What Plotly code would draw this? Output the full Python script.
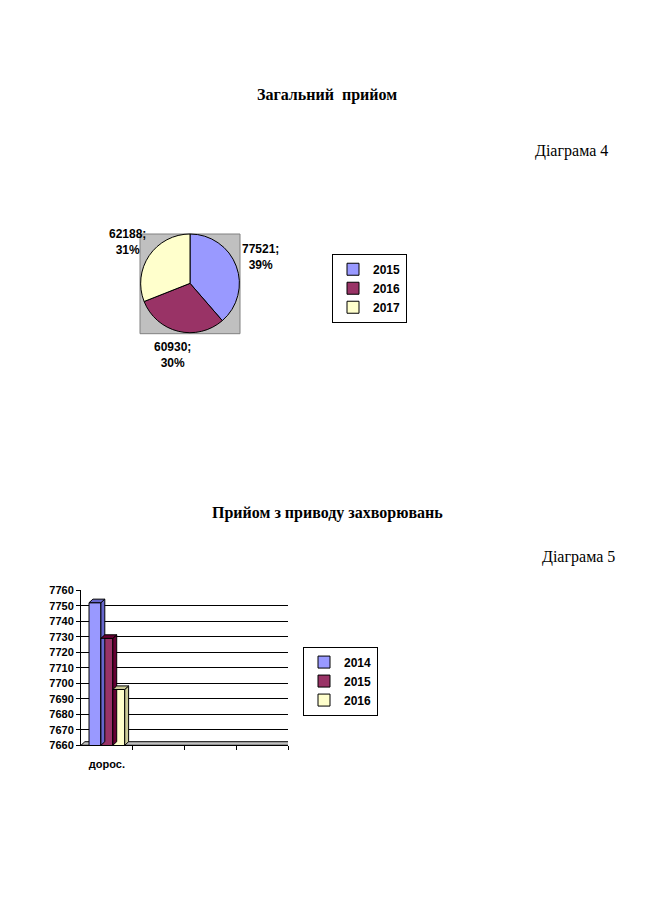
import math
import plotly.graph_objects as go

W, H = 654, 924

# ---- data ----
pie_years = ["2015", "2016", "2017"]
pie_values = [77521, 60930, 62188]
pie_colors = ["#9999FF", "#993366", "#FFFFCC"]

bar_category = ["дорос."]
bar_years = ["2014", "2015", "2016"]
bar_values = [7752, 7729, 7696]
bar_colors = ["#9999FF", "#993366", "#FFFFCC"]
bar_side_colors = ["#6666CC", "#660033", "#CCCC99"]
y_ticks = [7660, 7670, 7680, 7690, 7700, 7710, 7720, 7730, 7740, 7750, 7760]

SANS = "Liberation Sans"
SERIF = "Liberation Serif"


def px_x(x):
    return x / W


def px_y(y):
    return 1 - y / H


fig = go.Figure()

# ---- pie chart ----
pie_x = [140, 240]
pie_y = [231, 331]
fig.add_trace(go.Pie(
    labels=pie_years, values=pie_values, sort=False, direction="clockwise",
    rotation=0,
    marker=dict(colors=pie_colors, line=dict(color="black", width=1)),
    textinfo="none",
    domain=dict(x=[px_x(pie_x[0]), px_x(pie_x[1])], y=[px_y(pie_y[1]), px_y(pie_y[0])]),
    legend="legend", showlegend=True, hoverinfo="skip",
))

annotations = []
# data labels placed outside each slice at its mid angle
total = sum(pie_values)
cx = (pie_x[0] + pie_x[1]) / 2
cy = (pie_y[0] + pie_y[1]) / 2
r_lab = 75
cum = 0
for v in pie_values:
    mid = (cum + v / 2) / total * 2 * math.pi
    cum += v
    lx = cx + r_lab * math.sin(mid)
    ly = cy - r_lab * math.cos(mid)
    annotations.append(dict(
        text=f"{v};<br>{round(100 * v / total)}%", x=px_x(lx), y=px_y(ly),
        xref="paper", yref="paper", xanchor="center", yanchor="middle",
        showarrow=False, align="center",
        font=dict(family=SANS, size=12, color="black", weight="bold"),
    ))

# ---- bar chart ----
n = len(bar_years)
group_w = 0.69
bw = group_w / n
for i, (yr, v, c) in enumerate(zip(bar_years, bar_values, bar_colors)):
    fig.add_trace(go.Bar(
        x=[0], y=[v], name=yr, width=bw, offset=-group_w / 2 + i * bw,
        marker=dict(color=c, line=dict(color="black", width=1)),
        legend="legend2", xaxis="x", yaxis="y", hoverinfo="skip",
    ))

# 3D depth faces derived from the data
dx = 0.075
dy = 2.3
shapes = []
y0 = y_ticks[0]
# gray background square behind the pie
shapes.append(dict(
    type="rect", xref="paper", yref="paper",
    x0=px_x(pie_x[0]), x1=px_x(pie_x[1]), y0=px_y(pie_y[1] + 1), y1=px_y(pie_y[0]),
    fillcolor="#C0C0C0", line=dict(color="#808080", width=1), layer="below",
))
# floor
shapes.append(dict(
    type="path", xref="x", yref="y",
    path=f"M -0.5 {y0} L {-0.5+dx} {y0+dy} L {3.5+dx} {y0+dy} L 3.5 {y0} Z",
    fillcolor="#C0C0C0", line=dict(color="black", width=1), layer="below",
))
for i, (v, sc) in enumerate(zip(bar_values, bar_side_colors)):
    left = -group_w / 2 + i * bw
    right = left + bw
    shapes.append(dict(
        type="path", xref="x", yref="y",
        path=f"M {right} {y0} L {right+dx} {y0+dy} L {right+dx} {v+dy} L {right} {v} Z",
        fillcolor=sc, line=dict(color="black", width=1),
    ))
    shapes.append(dict(
        type="path", xref="x", yref="y",
        path=f"M {left} {v} L {left+dx} {v+dy} L {right+dx} {v+dy} L {right} {v} Z",
        fillcolor=sc, line=dict(color="black", width=1),
    ))

annotations += [
    dict(text="<b>Загальний  прийом</b>", x=px_x(327), y=px_y(90), xref="paper", yref="paper",
         yanchor="middle", showarrow=False, font=dict(family=SERIF, size=16, color="black")),
    dict(text="Діаграма 4", x=px_x(610), y=px_y(147), xref="paper", yref="paper",
         xanchor="right", yanchor="middle", showarrow=False,
         font=dict(family=SERIF, size=16, color="black")),
    dict(text="<b>Прийом з приводу захворювань</b>", x=px_x(327), y=px_y(514), xref="paper",
         yref="paper", yanchor="middle", showarrow=False,
         font=dict(family=SERIF, size=16, color="black")),
    dict(text="Діаграма 5", x=px_x(617), y=px_y(558), xref="paper", yref="paper",
         xanchor="right", yanchor="middle", showarrow=False,
         font=dict(family=SERIF, size=16, color="black")),
]

fig.update_layout(
    width=W, height=H, margin=dict(l=0, r=0, t=0, b=0),
    paper_bgcolor="white", plot_bgcolor="white",
    barmode="overlay",
    shapes=shapes, annotations=annotations,
    xaxis=dict(
        domain=[px_x(81), px_x(288)], range=[-0.5, 3.5],
        tickvals=[0], ticktext=bar_category, ticks="", showgrid=False,
        showline=True, linecolor="black", linewidth=1,
        minor=dict(tickvals=[0.5, 1.5, 2.5, 3.5], ticks="outside", ticklen=4,
                   tickcolor="black", showgrid=False),
        tickfont=dict(family=SANS, size=11, color="black", weight="bold"),
        ticklabelstandoff=9,
        fixedrange=True, zeroline=False,
    ),
    yaxis=dict(
        domain=[px_y(749), px_y(592)], range=[y_ticks[0], y_ticks[-1]],
        tickvals=y_ticks, ticks="outside", ticklen=4, tickcolor="black",
        showline=True, linecolor="black", linewidth=1,
        showgrid=True, gridcolor="black", gridwidth=1,
        tickfont=dict(family=SANS, size=11, color="black", weight="bold"),
        zeroline=False, fixedrange=True,
    ),
    legend=dict(
        x=px_x(332), y=px_y(251), xanchor="left", yanchor="top",
        bordercolor="black", borderwidth=1, bgcolor="white",
        font=dict(family=SANS, size=12, color="black", weight="bold"),
        itemwidth=30, tracegroupgap=0,
    ),
    legend2=dict(
        x=px_x(303), y=px_y(649), xanchor="left", yanchor="top",
        bordercolor="black", borderwidth=1, bgcolor="white",
        font=dict(family=SANS, size=12, color="black", weight="bold"),
        itemwidth=30, tracegroupgap=0,
    ),
)

fig.write_html("out.html")
